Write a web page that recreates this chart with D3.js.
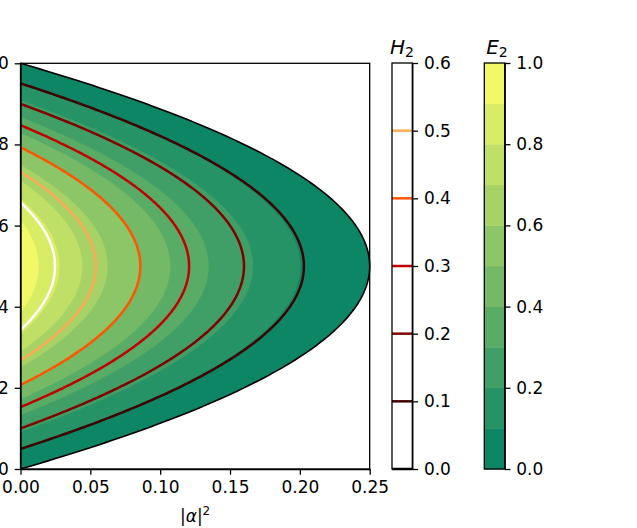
<!DOCTYPE html>
<meta charset="utf-8">
<title>E2 and H2 contours</title>
<style>
  html, body { margin: 0; background: #fff; }
  svg { display: block; font-family: 'DejaVu Sans', sans-serif; }
  .tick text { font-family: 'DejaVu Sans', sans-serif; font-size: 17px; fill: #000; }
  .tick line, .domain { stroke: #000; stroke-width: 1.3px; }
  .frame { fill: none; stroke: #000; stroke-width: 1.3px; }
  .contour { fill: none; stroke-width: 2.5px; }
</style>
<svg width="637" height="528"></svg>
<script src="https://cdn.jsdelivr.net/npm/d3@7"></script>
<script>
  /* global d3 */
  'use strict'
  // E2 filled levels; for each lower level, how far in |α|² the band reaches at p = 0.5
  const e2Levels = [0, 0.1, 0.2, 0.3, 0.4, 0.5, 0.6, 0.7, 0.8, 0.9, 1.0]
  const e2Reach = [0.25, 0.2002, 0.1663, 0.1345, 0.1071, 0.0861, 0.0622, 0.0441, 0.0278, 0.0128]
  // H2 contour levels and their reach in |α|² at p = 0.5
  const h2Levels = [0, 0.1, 0.2, 0.3, 0.4, 0.5, 0.6]
  const h2Reach = [0.25, 0.2029, 0.160, 0.1207, 0.0858, 0.0539, 0.0247]
  const xTicks = [0, 0.05, 0.1, 0.15, 0.2, 0.25]
  const yTicks = [0, 0.2, 0.4, 0.6, 0.8, 1.0]
  const h2Ticks = [0, 0.1, 0.2, 0.3, 0.4, 0.5, 0.6]
  const e2Ticks = [0, 0.2, 0.4, 0.6, 0.8, 1.0]

  const svg = d3.select('svg')
  const x = d3.scaleLinear().domain([0, 0.25]).range([20.5, 369.7])
  const y = d3.scaleLinear().domain([0, 1]).range([469, 63.3])

  // matplotlib 'summer' and 'gist_heat' colormaps
  const summer = t => d3.rgb(255 * t, 255 * (0.5 + 0.5 * t), 102).formatHex()
  const clamp = v => Math.max(0, Math.min(1, v))
  const gistHeat = t => d3.rgb(255 * clamp(1.5 * t), 255 * clamp(2 * t - 1),
    255 * clamp(4 * t - 3)).formatHex()
  const e2Color = i => summer((i + 0.5) / (e2Levels.length - 1))
  const h2Color = d3.scaleLinear().domain(d3.extent(h2Levels)).range([0, 1])

  // iso-curve |α|² + (p - 1/2)² = c, clipped at |α|² = 0
  function curve(c) {
    const r = Math.sqrt(c)
    return d3.range(0, 201).map(i => {
      const p = 0.5 - r + 2 * r * i / 200
      return [Math.max(0, c - (p - 0.5) ** 2), p]
    })
  }
  const line = d3.line().x(d => x(d[0])).y(d => y(d[1]))

  const plot = svg.append('g')
  plot.selectAll('.band')
    .data(e2Reach)
    .enter().append('path')
    .attr('class', 'band')
    .attr('d', c => line(curve(c)) + 'Z')
    .attr('fill', (c, i) => e2Color(i))
    .attr('stroke', (c, i) => e2Color(i))
    .attr('stroke-width', 0.6)

  plot.selectAll('.contour')
    .data(h2Reach.slice(1))
    .enter().append('path')
    .attr('class', 'contour')
    .attr('d', c => line(curve(c)))
    .attr('stroke', (c, i) => gistHeat(h2Color(h2Levels[i + 1])))

  plot.append('path')   // H2 = 0 at the edge of the region
    .attr('d', line(curve(h2Reach[0])))
    .attr('fill', 'none')
    .attr('stroke', gistHeat(h2Color(h2Levels[0])))
    .attr('stroke-width', 1.6)

  const fmt = d3.format('.2f')
  svg.append('g')
    .attr('transform', `translate(0,${y(0)})`)
    .call(d3.axisBottom(x).tickValues(xTicks).tickFormat(fmt)
      .tickSize(5.8).tickPadding(5.8).tickSizeOuter(0))
  svg.append('g')
    .attr('transform', `translate(${x(0)},0)`)
    .call(d3.axisLeft(y).tickValues(yTicks).tickFormat(d3.format('.1f'))
      .tickSize(5.8).tickPadding(5.8).tickSizeOuter(0))
  svg.append('rect').attr('class', 'frame')
    .attr('x', x(0)).attr('y', y(1))
    .attr('width', x(0.25) - x(0)).attr('height', y(0) - y(1))

  const xl = svg.append('text')
    .attr('x', (x(0) + x(0.25)) / 2).attr('y', 522)
    .attr('text-anchor', 'middle').style('font-size', '17px')
  xl.append('tspan').text('|')
  xl.append('tspan').style('font-style', 'italic').text('α')
  xl.append('tspan').text('|')
  xl.append('tspan').attr('dy', -7).style('font-size', '12px').text('2')

  // H2 colourbar
  const hy = d3.scaleLinear().domain([0, 0.6]).range([469, 63])
  const hb = svg.append('g')
  hb.append('rect').attr('x', 392).attr('y', hy(0.6))
    .attr('width', 20.3).attr('height', hy(0) - hy(0.6)).attr('fill', '#fff')
  hb.selectAll('line.lvl')
    .data(h2Levels)
    .enter().append('line')
    .attr('class', 'lvl')
    .attr('x1', 392).attr('x2', 412.3)
    .attr('y1', d => hy(d)).attr('y2', d => hy(d))
    .attr('stroke', d => gistHeat(h2Color(d)))
    .attr('stroke-width', 2.5)
  hb.append('g').attr('transform', 'translate(412.3,0)')
    .call(d3.axisRight(hy).tickValues(h2Ticks).tickFormat(d3.format('.1f'))
      .tickSize(5.8).tickPadding(5.8).tickSizeOuter(0))
  hb.append('rect').attr('class', 'frame').attr('x', 392).attr('y', hy(0.6))
    .attr('width', 20.3).attr('height', hy(0) - hy(0.6))

  // E2 colourbar
  const ey = d3.scaleLinear().domain([0, 1]).range([469, 63])
  const eb = svg.append('g')
  eb.selectAll('rect.band')
    .data(e2Levels.slice(0, -1))
    .enter().append('rect')
    .attr('class', 'band')
    .attr('x', 484.3).attr('width', 20.4)
    .attr('y', (d, i) => ey(e2Levels[i + 1]))
    .attr('height', (d, i) => ey(d) - ey(e2Levels[i + 1]) + 0.5)
    .attr('fill', (d, i) => e2Color(i))
  eb.append('g').attr('transform', 'translate(504.7,0)')
    .call(d3.axisRight(ey).tickValues(e2Ticks).tickFormat(d3.format('.1f'))
      .tickSize(5.8).tickPadding(5.8).tickSizeOuter(0))
  eb.append('rect').attr('class', 'frame').attr('x', 484.3).attr('y', ey(1))
    .attr('width', 20.4).attr('height', ey(0) - ey(1))

  function title(cx, letter) {
    const t = svg.append('text').attr('x', cx).attr('y', 53.5)
      .attr('text-anchor', 'middle').style('font-size', '20px')
    t.append('tspan').style('font-style', 'italic').text(letter)
    t.append('tspan').attr('dy', 3).style('font-size', '14px').text('2')
  }
  title(402, 'H')
  title(497, 'E')
</script>
